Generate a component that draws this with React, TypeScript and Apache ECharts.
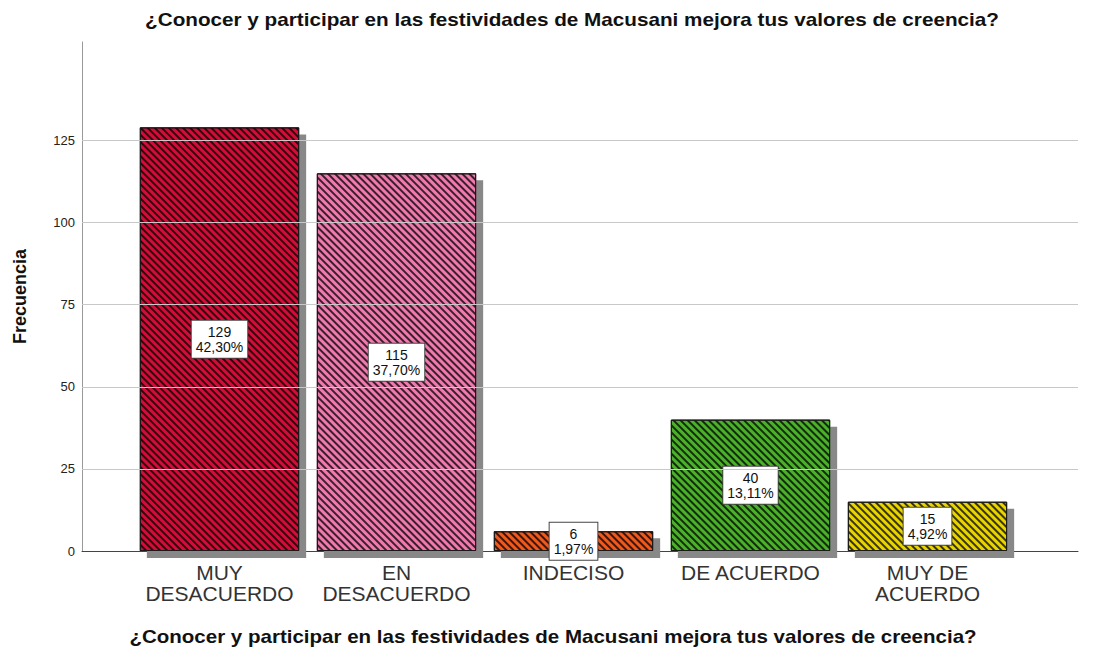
import React, { useEffect, useRef } from "react";
import * as echarts from "echarts";

const categories = ["MUY\nDESACUERDO", "EN\nDESACUERDO", "INDECISO", "DE ACUERDO", "MUY DE\nACUERDO"];
const counts = [129, 115, 6, 40, 15];
const percents = ["42,30%", "37,70%", "1,97%", "13,11%", "4,92%"];
const colors = ["#d40c38", "#f07aae", "#f0581c", "#4cb02c", "#e8d400"];
const gridTicks = [25, 50, 75, 100, 125];
const titleText = "¿Conocer y participar en las festividades de Macusani mejora tus valores de creencia?";

const FONT = "'Liberation Sans', Arial, sans-serif";

export default function App() {
  const ref = useRef<HTMLDivElement>(null);
  useEffect(() => {
    if (!ref.current) return;
    const chart = echarts.init(ref.current, undefined, { renderer: "svg" });
    const top = 42;
    const bottom = 648 - 551;
    const option: any = {
      animation: false,
      backgroundColor: "#ffffff",
      textStyle: { fontFamily: FONT },
      graphic: [
        {
          type: "text",
          x: 572,
          y: 20,
          scaleX: 1.15,
          silent: true,
          style: {
            text: titleText,
            font: `bold 18px ${FONT}`,
            fill: "#111",
            textAlign: "center",
            textVerticalAlign: "middle",
          },
        },
        {
          type: "text",
          x: 553,
          y: 637,
          scaleX: 1.14,
          silent: true,
          style: {
            text: titleText,
            font: `bold 18px ${FONT}`,
            fill: "#111",
            textAlign: "center",
            textVerticalAlign: "middle",
          },
        },
      ],
      grid: [
        { left: 82, right: 27, top, bottom, containLabel: false },
        { left: 131, right: 89, top, bottom, containLabel: false },
      ],
      xAxis: [
        {
          gridIndex: 0,
          type: "value",
          min: 0,
          max: 1,
          axisLine: { show: true, onZero: false, lineStyle: { color: "#444", width: 1 } },
          axisTick: { show: false },
          axisLabel: { show: false },
          splitLine: { show: false },
        },
        {
          gridIndex: 1,
          type: "category",
          data: categories,
          boundaryGap: true,
          axisLine: { show: false },
          axisTick: { show: false },
          axisLabel: {
            interval: 0,
            margin: 11,
            fontFamily: FONT,
            fontSize: 21,
            lineHeight: 21,
            color: "#333",
          },
        },
      ],
      yAxis: [
        {
          gridIndex: 0,
          type: "value",
          min: 0,
          max: 155,
          interval: 25,
          name: "Frecuencia",
          nameLocation: "middle",
          nameGap: 53,
          nameTextStyle: { fontFamily: FONT, fontSize: 18, fontWeight: "bold", color: "#111" },
          axisLine: { show: true, lineStyle: { color: "#999", width: 1 } },
          axisTick: { show: false },
          splitLine: { show: false },
          axisLabel: {
            fontFamily: FONT,
            fontSize: 13,
            color: "#222",
            margin: 7,
            formatter: (v: number) => (v > 125 ? "" : String(v)),
          },
        },
        {
          gridIndex: 1,
          type: "value",
          min: 0,
          max: 155,
          show: false,
        },
      ],
      series: [
        {
          type: "line",
          xAxisIndex: 0,
          yAxisIndex: 0,
          data: [],
          silent: true,
          markLine: {
            silent: true,
            symbol: "none",
            label: { show: false },
            lineStyle: { color: "#c8c8c8", type: "solid", width: 1 },
            data: gridTicks.map((t) => ({ yAxis: t })),
          },
          z: 1,
        },
        {
          type: "bar",
          name: "fill",
          xAxisIndex: 1,
          yAxisIndex: 1,
          barWidth: "90%",
          z: 3,
          silent: true,
          data: counts.map((c, i) => ({
            value: c,
            itemStyle: {
              color: colors[i],
              shadowColor: "#888888",
              shadowOffsetX: 7,
              shadowOffsetY: 7,
              shadowBlur: 0,
            },
          })),
        },
        {
          type: "bar",
          name: "hatch",
          xAxisIndex: 1,
          yAxisIndex: 1,
          barWidth: "90%",
          barGap: "-100%",
          z: 4,
          data: counts.map((c) => ({
            value: c,
            itemStyle: {
              color: "rgba(0,0,0,0)",
              borderColor: "#1a1a1a",
              borderWidth: 1,
              decal: {
                symbol: "rect",
                symbolSize: 1,
                dashArrayX: [1, 0],
                dashArrayY: [2, 2.2],
                rotation: Math.PI / 4,
                color: "rgba(0,0,0,0.75)",
              },
            },
          })),
          label: {
            show: true,
            position: "inside",
            formatter: (p: any) => `${counts[p.dataIndex]}\n${percents[p.dataIndex]}`,
            fontFamily: FONT,
            fontSize: 14,
            lineHeight: 15,
            color: "#111",
            backgroundColor: "#ffffff",
            borderColor: "#444",
            borderWidth: 1,
            padding: [4, 4, 3, 4],
          },
        },
      ],
    };
    chart.setOption(option);
    return () => chart.dispose();
  }, []);
  return <div ref={ref} style={{ width: 1105, height: 648, position: "fixed", left: 0, top: 0 }} />;
}
